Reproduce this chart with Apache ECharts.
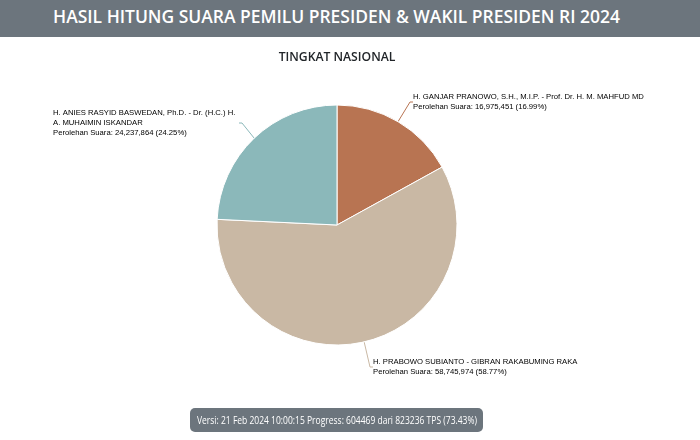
<!DOCTYPE html>
<html>
<head>
<meta charset="utf-8">
<script src="https://cdn.jsdelivr.net/npm/echarts@6/dist/echarts.min.js"></script>
<style>
  html, body { margin: 0; padding: 0; width: 700px; height: 440px; overflow: hidden; background: #fff; }
  #chart { position: absolute; left: 0; top: 0; width: 700px; height: 440px; }
  #header { position: absolute; left: 0; top: 0; width: 700px; height: 37px; background: #6c757d; z-index: 2; }
  #header div { position: absolute; left: 0; top: 0; width: 673px; height: 37px; line-height: 32px; text-align: center;
    color: #fff; font-family: "Open Sans", sans-serif; font-weight: 600; font-size: 17.4px; white-space: nowrap; }
  #badge { position: absolute; left: 190px; top: 408px; width: 293px; height: 24px; border-radius: 5px;
    background: #6c757d; z-index: 2; }
  #btext { position: absolute; left: 146.5px; top: 0; height: 24px; line-height: 25px; color: #fff;
    font-family: "Open Sans", sans-serif; font-size: 10.5px; white-space: nowrap; transform-origin: 0 50%; }
</style>
</head>
<body>
<div id="chart"></div>
<div id="header"><div id="htitle"></div></div>
<div id="badge"><span id="btext"></span></div>
<script>
const pageTitle = "HASIL HITUNG SUARA PEMILU PRESIDEN & WAKIL PRESIDEN RI 2024";
const chartTitle = "TINGKAT NASIONAL";
const footerText = "Versi: 21 Feb 2024 10:00:15 Progress: 604469 dari 823236 TPS (73.43%)";

const candidates = [
  "H. GANJAR PRANOWO, S.H., M.I.P. - Prof. Dr. H. M. MAHFUD MD",
  "H. PRABOWO SUBIANTO - GIBRAN RAKABUMING RAKA",
  "H. ANIES RASYID BASWEDAN, Ph.D. - Dr. (H.C.) H. A. MUHAIMIN ISKANDAR"
];
const votes = [16975451, 58745974, 24237864];
const voteText = ["16,975,451", "58,745,974", "24,237,864"];
const pctText = ["16.99%", "58.77%", "24.25%"];
const colors = ["#b87452", "#c9b8a4", "#8bb8ba"];

function measure(text, size, weight, family) {
  const c = document.createElement('canvas').getContext('2d');
  c.font = weight + ' ' + size + 'px ' + family;
  return c.measureText(text).width;
}
// fit a text element's font size so its text spans a target width
function fitText(el, text, targetWidth, weight, family) {
  const w = measure(text, 20, weight, family);
  el.style.fontSize = (20 * targetWidth / w).toFixed(2) + 'px';
  el.textContent = text;
}
// keep font size, scale horizontally to a target width, centered in its box
function fitScale(el, text, targetWidth, size, weight, family) {
  const w = measure(text, size, weight, family);
  el.textContent = text;
  el.style.left = (146.5 - targetWidth / 2) + 'px';
  el.style.transform = 'scaleX(' + (targetWidth / w).toFixed(4) + ')';
}
fitText(document.getElementById('htitle'), pageTitle, 567, '600', '"Open Sans"');
fitScale(document.getElementById('btext'), footerText, 280, 10.5, '400', '"Open Sans"');

// label anchor positions (top-left of label block)
const labelPos = [
  {x: 413, y: 92},
  {x: 373, y: 357},
  {x: 53, y: 108}
];

const chart = echarts.init(document.getElementById('chart'), null, {renderer: 'canvas'});
chart.setOption({
  animation: false,
  graphic: [{
    type: 'text', x: 337, y: 52,
    style: { text: chartTitle, align: 'center', verticalAlign: 'top',
      fontFamily: 'Open Sans', fontWeight: 600, fontSize: 12.2, fill: '#212529' }
  }],
  series: [{
    type: 'pie',
    center: [337, 225],
    radius: [0, 120],
    startAngle: 90,
    clockwise: true,
    avoidLabelOverlap: false,
    itemStyle: { borderColor: '#fff', borderWidth: 1 },
    label: {
      show: true,
      position: 'outside',
      fontFamily: 'Liberation Sans, Arial, sans-serif',
      fontSize: 7.7,
      lineHeight: 10,
      color: '#000',
      formatter: function (p) {
        return p.name + '\nPerolehan Suara: ' + voteText[p.dataIndex] + ' (' + pctText[p.dataIndex] + ')';
      }
    },
    labelLine: { show: true, length: 10, length2: 3, lineStyle: { width: 1 } },
    labelLayout: function (params) {
      const pos = labelPos[params.dataIndex];
      return { x: pos.x, y: pos.y, align: 'left', verticalAlign: 'top' };
    },
    emphasis: { disabled: true },
    data: candidates.map(function (n, i) {
      const d = { name: n, value: votes[i], itemStyle: { color: colors[i] } };
      if (i === 2) d.label = { width: 186, overflow: 'break' };
      return d;
    })
  }]
});
</script>
</body>
</html>
